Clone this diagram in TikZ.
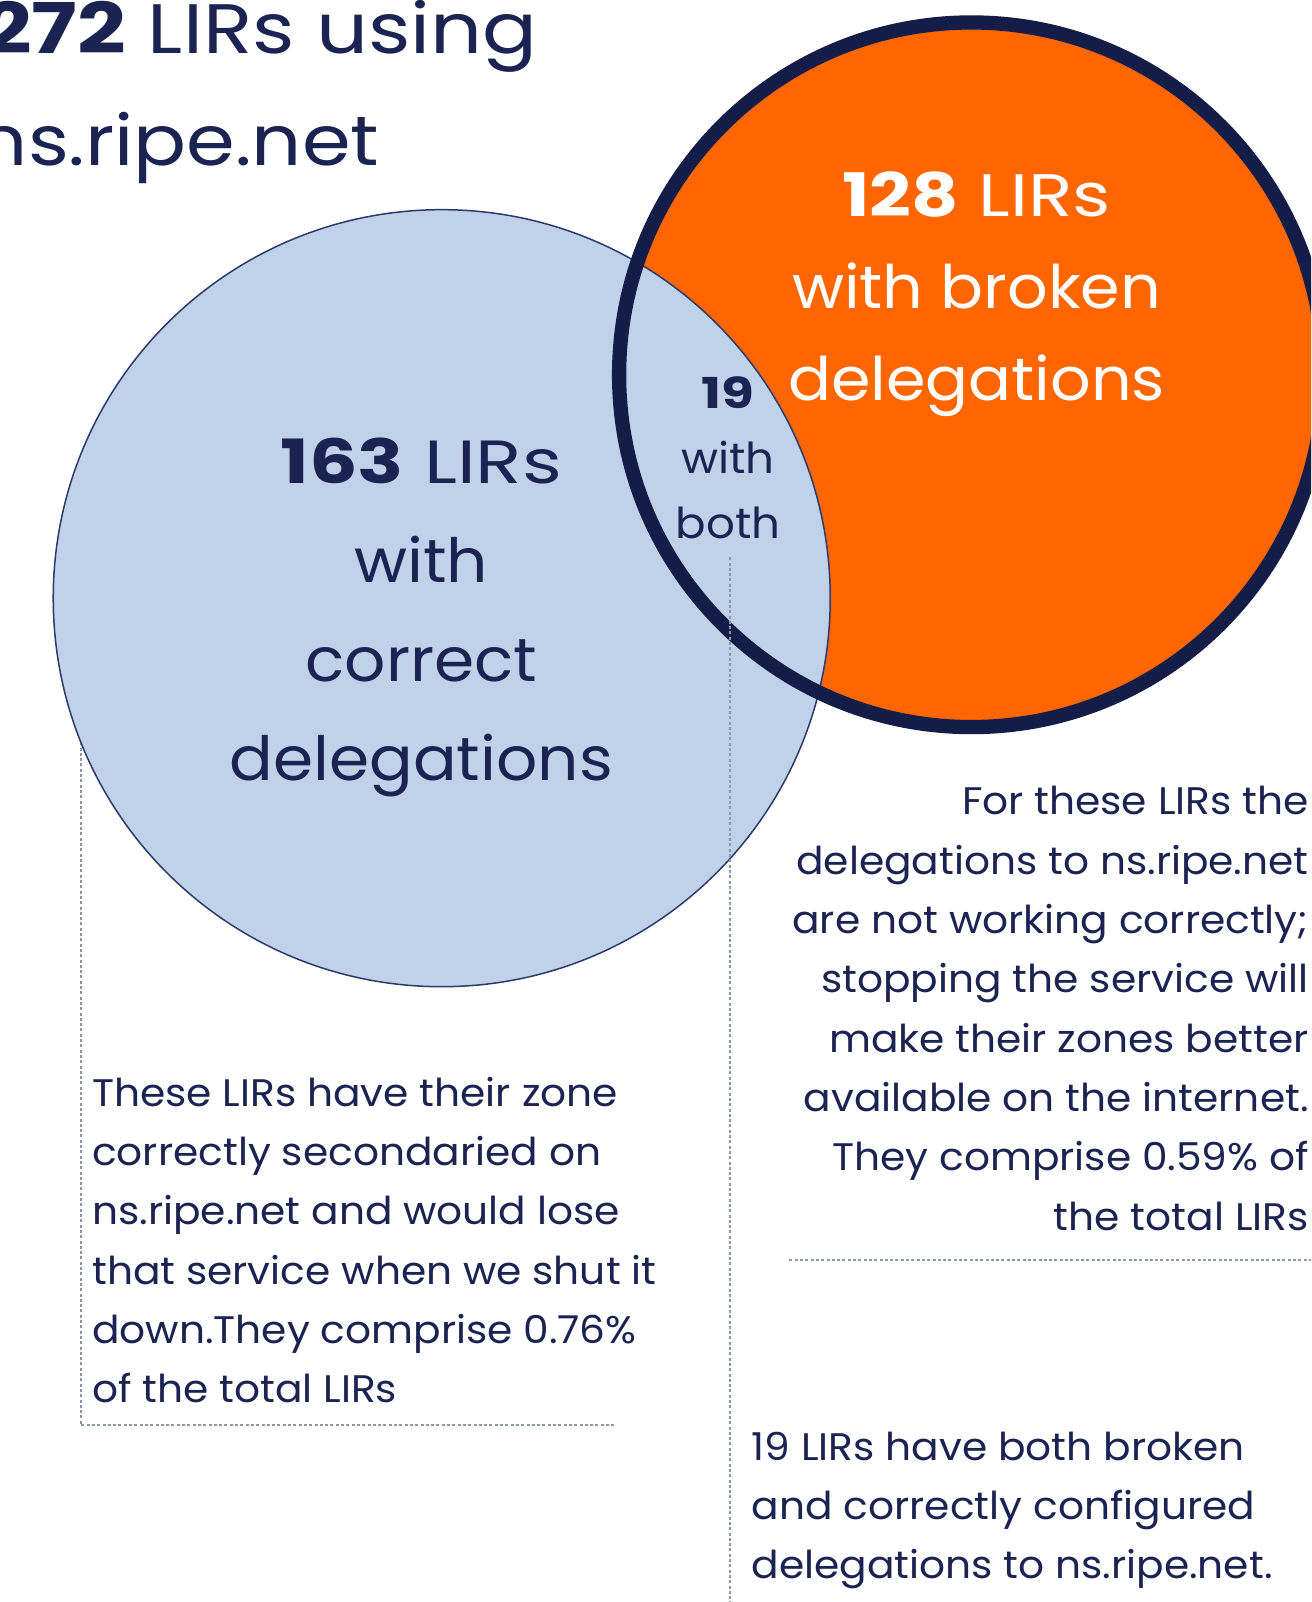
\documentclass[tikz,border=0pt]{standalone}
\usepackage{graphicx}
\usepackage{fontspec}
\setmainfont[FakeStretch=1.06]{Poppins}
\newfontfamily\titlefont[FakeStretch=1.16]{Poppins}
\newcommand{\widenum}[2][1.15]{\scalebox{#1}[1]{#2}}
\definecolor{navy}{HTML}{1A2352}
\definecolor{ringnavy}{HTML}{131D48}
\definecolor{ripeorange}{HTML}{FF6600}
\definecolor{lightblue}{HTML}{C0D2EA}
\definecolor{blueedge}{HTML}{2B3A6B}
\definecolor{dotgray}{HTML}{8E96AA}
\begin{document}
\begin{tikzpicture}[x=1.0225pt,y=-1.0225pt,
  dotline/.style={draw=dotgray, line width=2.1pt, dash pattern=on 3pt off 2.3pt},
  titletext/.style={inner sep=0pt, text=navy, font=\titlefont\fontsize{70}{110}\selectfont},
  bodytext/.style={inner sep=0pt, text=navy, font=\fontsize{38.4}{59.3}\selectfont},
  bluetext/.style={inner sep=0pt, text=navy, align=center, font=\fontsize{61}{99}\selectfont},
  orangetext/.style={inner sep=0pt, text=white, align=center, font=\fontsize{60}{92}\selectfont},
  bothtext/.style={inner sep=0pt, text=navy, align=center, font=\fontsize{42.6}{65}\selectfont}]
\useasboundingbox (0,0) rectangle (1282.15,1566.7);
\clip (0,0) rectangle (1282.15,1566.7);
\fill[white] (0,0) rectangle (1282.15,1566.7);

% circle centres
\coordinate (bc) at (432,585);
\coordinate (oc) at (950,366.5);

% left bracket (behind the blue circle)
\coordinate (lb1) at (79,700);
\coordinate (lb2) at (79,1394);
\coordinate (lb3) at (601,1394);
\draw[dotline] (lb1) -- (lb2) -- (lb3);

% circles
\fill[ripeorange] (oc) circle (352.3pt);
\filldraw[fill=lightblue, draw=blueedge, line width=1.5pt] (bc) circle (388.5pt);
\draw[ringnavy, line width=14.3pt] (oc) circle (352.3pt);

% title
\node[titletext, anchor=base east] (t1) at (526,52) {\widenum[1.05]{\textbf{272}} LIRs using};
\node[titletext, anchor=base east] (t2) at (371,162) {\scalebox{0.965}[1]{ns.ripe.net}};

% circle labels
\node[bluetext, anchor=north] (blue) at (412,428) {\widenum[1.18]{\textbf{163} LIRs}\\with\\correct\\delegations};
\node[orangetext, anchor=north] (orange) at (955,168) {\widenum{\textbf{128} LIRs}\\with broken\\delegations};
\node[bothtext, anchor=north] (both) at (712,368) {\widenum[1.18]{\textbf{19}}\\with\\both};

% middle dotted line
\coordinate (m1) at (714,545);
\coordinate (m2) at (714,1570);
\draw[dotline] (m1) -- (m2);

% right rule
\coordinate (r1) at (772,1232);
\coordinate (r2) at (1290,1232);
\draw[dotline] (r1) -- (r2);

% body texts
\node[bodytext, align=left, anchor=north west] (lefttext) at (90,1053)
  {These LIRs have their zone\\correctly secondaried on\\ns.ripe.net and would lose\\that service when we shut it\\down.They comprise 0.76\%\\of the total LIRs};
\node[bodytext, align=right, anchor=north east] (righttext) at (1280,769)
  {For these LIRs the\\delegations to ns.ripe.net\\are not working correctly;\\stopping the service will\\make their zones better\\available on the internet.\\They comprise 0.59\% of\\the total LIRs};
\node[bodytext, align=left, anchor=north west] (bottomtext) at (735,1400)
  {19 LIRs have both broken\\and correctly configured\\delegations to ns.ripe.net.};
\end{tikzpicture}
\end{document}
